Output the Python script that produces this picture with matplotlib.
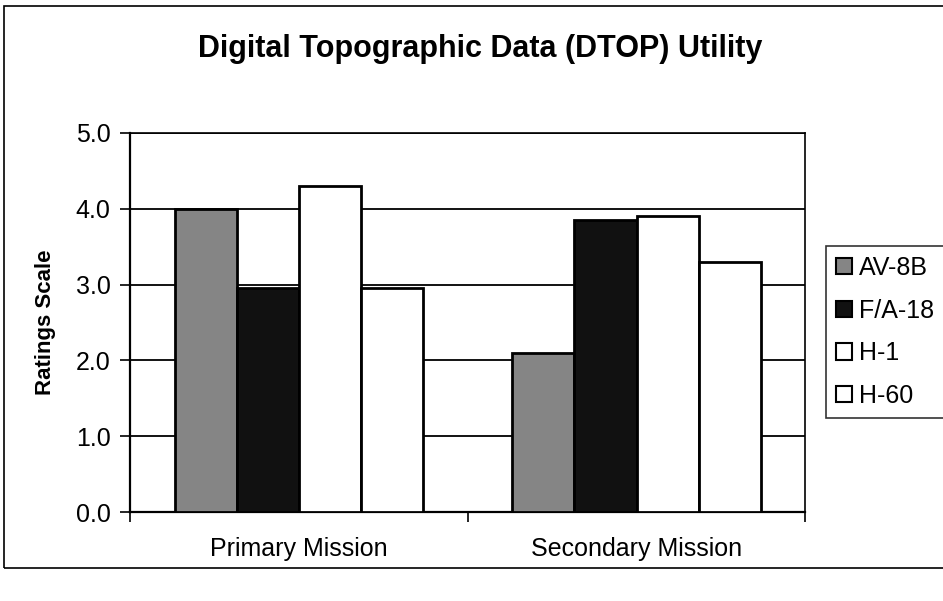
import matplotlib.pyplot as plt
from matplotlib.patches import Rectangle
import numpy as np

plt.rcParams['font.family'] = ['Liberation Sans', 'DejaVu Sans']

# values
missions = ['Primary Mission', 'Secondary Mission']
aircraft = ['AV-8B', 'F/A-18', 'H-1', 'H-60']
av8b = [4.0, 2.1]
fa18 = [2.95, 3.85]
h1 = [4.3, 3.9]
h60 = [2.95, 3.3]
yticks = [0.0, 1.0, 2.0, 3.0, 4.0, 5.0]

series = [av8b, fa18, h1, h60]
colors = ['#858585', '#111111', 'white', 'white']

fig = plt.figure(figsize=(9.43, 6.01), dpi=100)
ax = fig.add_axes([0.138, 0.148, 0.716, 0.631])

x = np.arange(len(missions))
width = 0.184
for i, (vals, name) in enumerate(zip(series, aircraft)):
    offs = (i - 1.5) * width
    ax.bar(x + offs, vals, width, color=colors[i], edgecolor='black',
           linewidth=2.0, label=name, zorder=3)

ax.set_ylim(0, 5)
ax.set_xlim(-0.5, 1.5)
ax.set_yticks(yticks)
ax.set_yticklabels([f'{v:.1f}' for v in yticks], fontsize=18)
ax.yaxis.grid(True, color='black', linewidth=1.3, zorder=0)
ax.set_axisbelow(True)

ax.set_xticks(x)
ax.set_xticklabels(missions, fontsize=18)
ax.set_xticks([-0.5, 0.5, 1.5], minor=True)
ax.tick_params(axis='x', which='major', length=0, pad=18)
ax.tick_params(axis='x', which='minor', length=7, width=1.2, direction='out')
ax.tick_params(axis='y', length=7, width=1.2, direction='out', pad=7)

for s in ax.spines.values():
    s.set_color('black')
    s.set_linewidth(1.2)
ax.spines['left'].set_linewidth(1.6)
ax.spines['bottom'].set_linewidth(1.6)

ax.set_ylabel('Ratings Scale', fontsize=16, fontweight='bold', labelpad=14)

fig.text(0.509, 0.918, 'Digital Topographic Data (DTOP) Utility',
         ha='center', va='center', fontsize=22, fontweight='bold')

leg = ax.legend(loc='upper left', bbox_to_anchor=(0.876, 0.591),
                bbox_transform=fig.transFigure, fontsize=18,
                handlelength=0.62, handleheight=0.62, handletextpad=0.3,
                labelspacing=0.75, borderpad=0.4, borderaxespad=0,
                frameon=True, fancybox=False, edgecolor='black')
leg.get_frame().set_linewidth(1.2)
for h in leg.legend_handles:
    h.set_linewidth(1.5)

# outer chart border (right side runs off the scan)
fig.patches.append(Rectangle((0.004, 0.055), 1.1, 0.935, transform=fig.transFigure,
                             fill=False, edgecolor='black', linewidth=1.2))

fig.savefig('out.png', dpi=100)
